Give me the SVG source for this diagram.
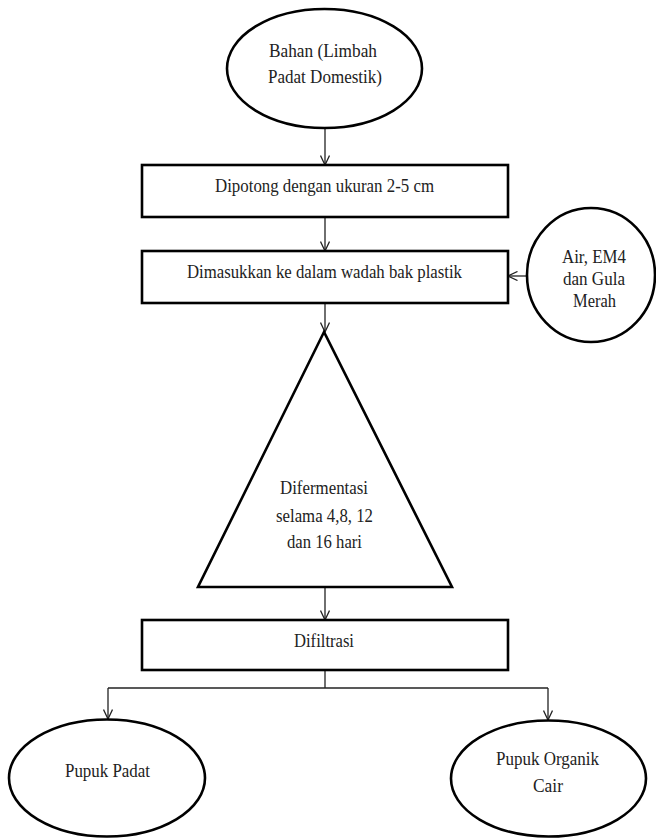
<svg xmlns="http://www.w3.org/2000/svg" width="656" height="838" viewBox="0 0 656 838">
<defs>
<style>
.shape{fill:#fff;stroke:#000;stroke-width:2.6}
.conn{fill:none;stroke:#222;stroke-width:1.3}
.t{font-family:"Liberation Serif","Times New Roman",serif;font-size:18px;fill:#222;text-anchor:middle}
</style>
<marker id="arr" viewBox="0 0 11 10" markerWidth="11" markerHeight="10" refX="10" refY="5" orient="auto" markerUnits="userSpaceOnUse">
<path d="M0.5,0.5 L10,5 L0.5,9.5" fill="none" stroke="#222" stroke-width="1.3"/>
</marker>
</defs>
<rect width="656" height="838" fill="#fff"/>
<g id="connectors">
<line class="conn" x1="325" y1="129" x2="325" y2="165" marker-end="url(#arr)"/>
<line class="conn" x1="325" y1="217" x2="325" y2="251" marker-end="url(#arr)"/>
<line class="conn" x1="325" y1="303" x2="325" y2="332" marker-end="url(#arr)"/>
<line class="conn" x1="527" y1="276" x2="508" y2="276" marker-end="url(#arr)"/>
<line class="conn" x1="325" y1="587" x2="325" y2="620" marker-end="url(#arr)"/>
<polyline class="conn" points="325,670 325,688"/>
<line class="conn" x1="108" y1="688" x2="548" y2="688"/>
<line class="conn" x1="108" y1="688" x2="108" y2="719" marker-end="url(#arr)"/>
<line class="conn" x1="548" y1="688" x2="548" y2="720" marker-end="url(#arr)"/>
</g>
<g id="bahan">
<ellipse class="shape" cx="324.5" cy="68.5" rx="97.5" ry="59.5"/>
<text class="t" x="323" y="57" textLength="108" lengthAdjust="spacingAndGlyphs">Bahan (Limbah</text>
<text class="t" x="325" y="83" textLength="114" lengthAdjust="spacingAndGlyphs">Padat Domestik)</text>
</g>
<g id="dipotong">
<rect class="shape" x="142" y="165" width="366" height="52"/>
<text class="t" x="324.5" y="192" textLength="219" lengthAdjust="spacingAndGlyphs">Dipotong dengan ukuran 2-5 cm</text>
</g>
<g id="dimasukkan">
<rect class="shape" x="142" y="251" width="366" height="52"/>
<text class="t" x="324.5" y="278" textLength="275" lengthAdjust="spacingAndGlyphs">Dimasukkan ke dalam wadah bak plastik</text>
</g>
<g id="air">
<ellipse class="shape" cx="591" cy="275" rx="64" ry="67"/>
<text class="t" x="594" y="263" textLength="64" lengthAdjust="spacingAndGlyphs">Air, EM4</text>
<text class="t" x="594" y="285" textLength="62" lengthAdjust="spacingAndGlyphs">dan Gula</text>
<text class="t" x="594.5" y="307" textLength="43" lengthAdjust="spacingAndGlyphs">Merah</text>
</g>
<g id="difermentasi">
<polygon class="shape" points="324,332 198,587 452,587"/>
<text class="t" x="324" y="494" textLength="88" lengthAdjust="spacingAndGlyphs">Difermentasi</text>
<text class="t" x="324.5" y="522" textLength="97" lengthAdjust="spacingAndGlyphs">selama 4,8, 12</text>
<text class="t" x="324.5" y="548" textLength="75" lengthAdjust="spacingAndGlyphs">dan 16 hari</text>
</g>
<g id="difiltrasi">
<rect class="shape" x="142" y="620" width="366" height="50"/>
<text class="t" x="324" y="647" textLength="60" lengthAdjust="spacingAndGlyphs">Difiltrasi</text>
</g>
<g id="pupuk-padat">
<ellipse class="shape" cx="107" cy="778" rx="98" ry="58.5"/>
<text class="t" x="107.5" y="777" textLength="85" lengthAdjust="spacingAndGlyphs">Pupuk Padat</text>
</g>
<g id="pupuk-cair">
<ellipse class="shape" cx="548.5" cy="778.5" rx="97.5" ry="58"/>
<text class="t" x="547.5" y="765" textLength="103" lengthAdjust="spacingAndGlyphs">Pupuk Organik</text>
<text class="t" x="548" y="792" textLength="30" lengthAdjust="spacingAndGlyphs">Cair</text>
</g>
</svg>
